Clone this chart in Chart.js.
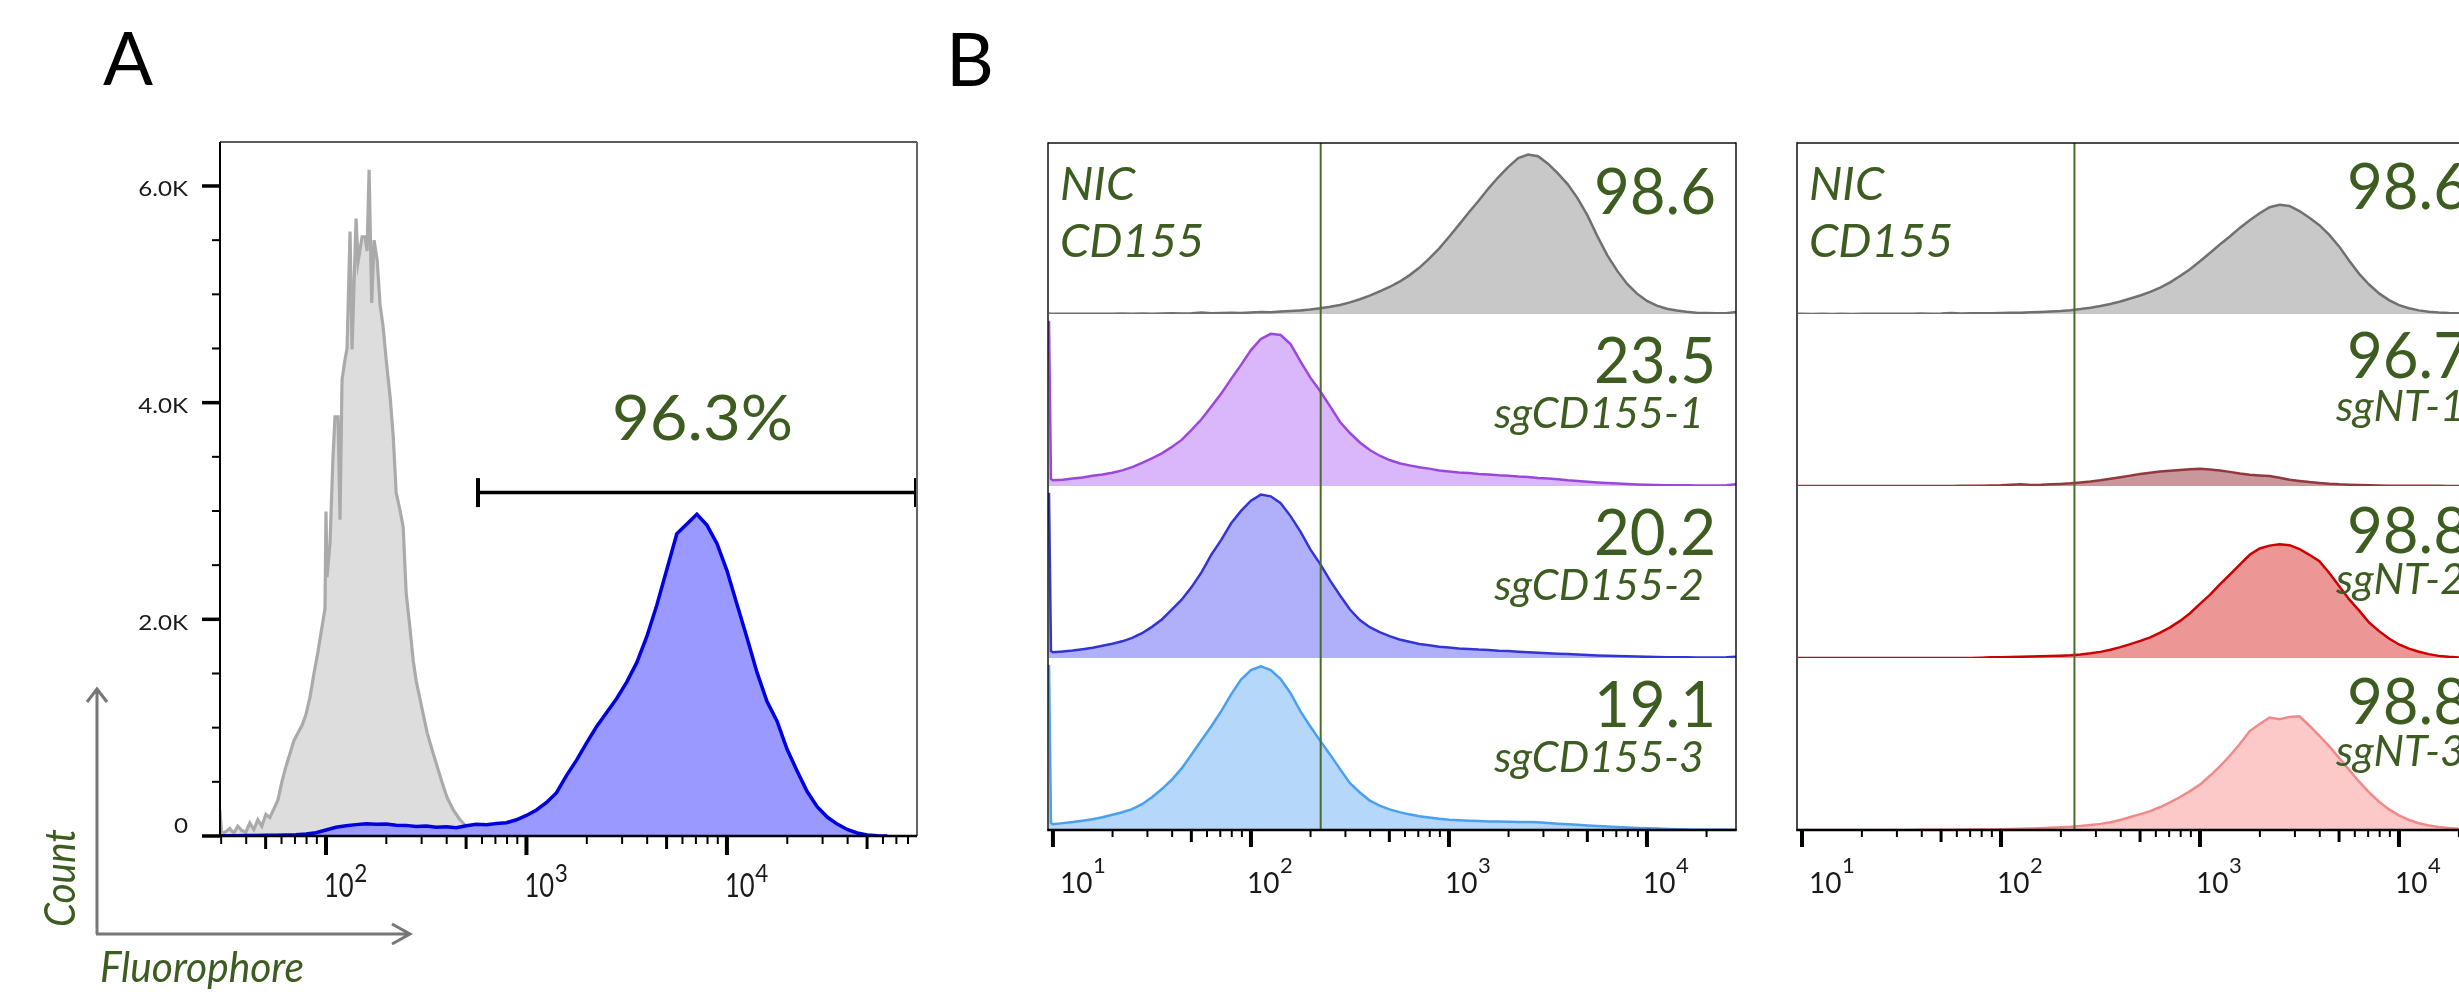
<!DOCTYPE html>
<html><head><meta charset="utf-8">
<script src="https://cdn.jsdelivr.net/npm/chart.js@4.4.1/dist/chart.umd.min.js"></script>
<style>
html,body{margin:0;padding:0;background:#fff;}
#stage{position:relative;width:2459px;height:992px;overflow:hidden;background:#fff;}
#stage canvas{position:absolute;}
#ann{position:absolute;left:0;top:0;z-index:10;pointer-events:none;}
</style></head>
<body><div id="stage">
<svg id="ann" xmlns="http://www.w3.org/2000/svg" width="2459" height="992" font-family="Lato"></svg>
</div>
<script>
// ===================== DATA =====================
// Panel A – bin positions (log10 of fluorescence) and counts
const aGrayLog = [1.47,1.48,1.50,1.52,1.54,1.56,1.58,1.60,1.62,1.64,1.66,1.68,1.70,1.72,1.74,1.76,1.78,1.80,1.82,1.84,1.86,1.88,1.90,1.92,1.94,1.96,1.98,1.995,2.000,2.005,2.020,2.035,2.045,2.060,2.070,2.080,2.095,2.105,2.120,2.130,2.150,2.160,2.180,2.195,2.205,2.215,2.228,2.240,2.255,2.270,2.285,2.300,2.320,2.335,2.350,2.370,2.385,2.400,2.420,2.435,2.450,2.470,2.490,2.505,2.530,2.555,2.580,2.603,2.635,2.668,2.700,2.718,2.750,2.783,2.850];
const aGrayCount = [240,20,40,70,25,90,50,35,120,60,150,90,200,170,250,330,500,640,760,880,950,1020,1120,1280,1500,1700,1930,2100,2995,2390,2700,3500,3870,3870,2920,4210,4400,4500,5580,4490,5700,5300,5530,5530,5400,6150,4920,5500,5320,4900,4700,4400,4050,3700,3170,3000,2850,2240,1900,1620,1430,1255,1080,950,790,640,490,360,240,150,90,55,25,10,0];
const aBlueLog = [1.45,1.50,1.55,1.60,1.65,1.70,1.75,1.80,1.85,1.90,1.95,2.00,2.05,2.10,2.15,2.20,2.25,2.30,2.35,2.40,2.45,2.50,2.55,2.60,2.65,2.70,2.75,2.80,2.85,2.90,2.95,3.00,3.05,3.10,3.15,3.20,3.25,3.30,3.35,3.40,3.45,3.50,3.55,3.60,3.65,3.70,3.75,3.80,3.85,3.90,3.95,4.00,4.05,4.10,4.15,4.20,4.25,4.30,4.35,4.40,4.45,4.50,4.55,4.60,4.65,4.70,4.75,4.80];
const aBlueCount = [0,2,3,4,5,6,8,10,12,18,30,55,80,95,105,112,108,110,100,98,88,92,80,86,76,95,108,104,115,122,150,190,240,310,400,560,700,860,1010,1140,1270,1420,1600,1840,2130,2460,2790,2880,2970,2870,2700,2450,2140,1830,1510,1240,1060,800,600,410,270,175,110,60,28,10,2,0];
const aYTicks = [0, 2000, 4000, 6000];
const aYTickLabels = ['0', '2.0K', '4.0K', '6.0K'];
const aDecades = [2, 3, 4];
const aGateStart = 573;      // gate left edge (fluorescence)
const aGateLevel = 3170;     // count level at which the gate bar is drawn
const aGateLabel = '96.3%';

// Panel B – shared bins (log10 of fluorescence)
const bBinsLog = [0.98,0.99,1.00,1.05,1.10,1.15,1.20,1.25,1.30,1.35,
 1.40,1.45,1.50,1.55,1.60,1.65,1.70,1.75,1.80,1.85,
 1.90,1.95,2.00,2.05,2.10,2.15,2.20,2.25,2.30,2.35,
 2.40,2.45,2.50,2.55,2.60,2.65,2.70,2.75,2.80,2.85,
 2.90,2.95,3.00,3.05,3.10,3.15,3.20,3.25,3.30,3.35,
 3.40,3.45,3.50,3.55,3.60,3.65,3.70,3.75,3.80,3.85,
 3.90,3.95,4.00,4.05,4.10,4.15,4.20,4.25,4.30,4.35,
 4.40,4.45];
const bNIC = [0.3,0.2,0.2,0.1,0.2,0.1,0.2,0.1,0.2,0.3,
 0.2,0.3,0.2,0.3,0.4,0.3,0.5,0.9,0.5,0.6,
 0.7,0.6,0.9,1.1,1.0,1.4,1.7,2.1,2.6,3.3,
 4.2,5.3,6.8,8.6,10.7,13.2,15.8,18.9,22.6,27.0,
 32.4,38.2,45.0,52.1,59.4,66.2,73.5,80.1,86.0,91.2,
 93.2,92.3,87.9,82.2,75.8,67.6,57.5,45.4,34.3,25.2,
 17.6,11.9,7.6,4.9,3.1,2.0,1.3,0.8,0.6,0.4,
 0.5,1.2];
const bSgCD155_1 = [96,4.0,3.3,3.7,4.3,4.9,5.9,6.7,7.7,9.1,
 11.0,13.4,16.1,19.0,22.7,26.8,32.6,38.8,46.2,53.7,
 62.3,70.4,79.0,85.5,88.5,87.8,82.5,72.4,63.0,55.1,
 46.3,37.2,30.8,25.3,20.9,17.6,15.1,13.2,12.0,10.9,
 10.1,9.0,8.4,7.9,7.6,7.0,6.7,6.2,6.0,5.5,
 5.3,4.7,4.3,3.9,3.3,2.9,2.5,2.1,1.7,1.4,
 1.1,0.9,0.7,0.6,0.5,0.4,0.4,0.3,0.3,0.3,
 0.5,1.0];
const bSgCD155_2 = [96,4.0,3.3,3.8,4.3,5.1,6.0,7.1,8.3,9.7,
 11.7,14.4,18.1,22.4,28.1,33.9,41.2,49.8,60.1,68.7,
 78.3,85.5,91.5,95.0,94.0,90.0,82.5,73.5,63.1,54.6,
 45.0,36.3,28.2,22.1,17.9,15.0,12.7,10.8,9.4,8.1,
 7.4,6.5,6.1,5.5,5.3,4.9,4.7,4.2,4.0,3.6,
 3.3,3.0,2.8,2.5,2.3,2.0,1.8,1.5,1.3,1.1,
 1.0,0.8,0.7,0.6,0.5,0.4,0.4,0.3,0.3,0.3,
 0.4,0.8];
const bSgCD155_3 = [96,4.0,3.3,4.0,4.6,5.4,6.3,7.4,8.9,10.3,
 12.1,15.0,19.1,23.8,29.2,35.8,43.9,52.2,60.3,69.1,
 78.9,87.5,93.0,95.1,93.0,87.8,79.5,69.0,60.2,51.8,
 43.8,35.4,27.2,21.8,17.1,14.2,12.0,10.4,9.1,8.0,
 7.3,6.5,6.0,5.7,5.4,5.2,5.0,4.9,4.8,4.7,
 4.6,4.5,4.1,3.7,3.3,3.0,2.6,2.3,2.0,1.7,
 1.4,1.2,1.0,0.8,0.6,0.5,0.3,0.2,0.2,0.1,
 0.1,0.1];
const bSgNT_1 = [0.1,0.1,0.1,0.1,0.1,0.1,0.1,0.1,0.1,0.1,
 0.1,0.1,0.1,0.1,0.1,0.1,0.1,0.1,0.2,0.2,
 0.3,0.4,0.6,1.0,1.5,0.9,1.0,1.4,1.8,2.3,
 3.0,3.8,4.8,6.1,7.4,8.8,10.2,11.3,12.3,13.0,
 13.6,14.2,14.6,14.0,13.2,12.0,10.7,9.6,9.0,8.4,
 7.0,5.3,4.3,3.3,2.6,1.9,1.4,1.1,0.8,0.6,
 0.4,0.3,0.2,0.2,0.2,0.2,0.2,0.1,0.1,0.1,
 0.1,0.1];
const bSgNT_2 = [0.1,0.1,0.1,0.1,0.1,0.1,0.1,0.1,0.1,0.1,
 0.1,0.1,0.1,0.1,0.1,0.1,0.1,0.1,0.1,0.1,
 0.3,0.6,0.7,0.8,1.0,1.2,1.4,1.7,2.0,2.4,
 3.0,4.0,5.2,7.0,9.2,11.8,14.5,17.5,21.5,26.0,
 31.5,38.0,46.0,53.6,62.4,70.8,79.3,87.6,93.0,95.4,
 96.6,95.8,92.5,87.6,82.2,72.1,61.0,49.7,40.2,30.1,
 22.8,16.5,11.5,8.0,5.3,3.3,1.8,1.0,0.5,0.3,
 0.2,0.2];
const bSgNT_3 = [0.1,0.1,0.1,0.1,0.1,0.1,0.1,0.1,0.1,0.1,
 0.1,0.1,0.1,0.1,0.2,0.2,0.3,0.3,0.3,0.4,
 0.4,0.5,0.7,0.8,1.0,1.2,1.5,1.9,2.3,2.7,
 3.3,4.2,5.2,6.6,8.5,11.0,13.5,16.0,19.5,23.5,
 28.0,33.0,38.5,46.0,54.0,63.0,73.0,84.0,90.0,95.5,
 94.0,96.0,96.5,88.5,80.0,71.0,61.0,51.0,41.0,32.0,
 24.0,17.5,12.5,8.5,5.7,3.8,2.6,1.7,1.0,0.6,
 0.4,0.3];
const bLeftSeries = [bNIC, bSgCD155_1, bSgCD155_2, bSgCD155_3];
const bRightSeries = [bNIC, bSgNT_1, bSgNT_2, bSgNT_3];
const bLeftNames = ['NIC', 'sgCD155-1', 'sgCD155-2', 'sgCD155-3'];
const bRightNames = ['NIC', 'sgNT-1', 'sgNT-2', 'sgNT-3'];
const bTitle = ['NIC', 'CD155'];
const bLeftPct = ['98.6', '23.5', '20.2', '19.1'];
const bRightPct = ['98.6', '96.7', '98.8', '98.8'];
const bDecades = [1, 2, 3, 4];
const bGates = [225, 234];          // gate positions (left, right panel)
const bYMax = [100, 146];           // row scale maximum (left, right panel)

// ===================== STYLES / LAYOUT =====================
const GREEN = '#3c5c20';
const GATE_GREEN = '#4a6b2a';
const aStyle = {
  gray: {line: '#aaaaaa', fill: '#dddddd'},
  blue: {line: '#0000dd', fill: '#9999ff'}
};
const bLeftStyle = [
  {line: '#707070', fill: '#c8c8c8'},
  {line: '#9a48dc', fill: '#dab6fa'},
  {line: '#3434d6', fill: '#b0b0fa'},
  {line: '#4a9ff0', fill: '#b4d7fa'}
];
const bRightStyle = [
  {line: '#707070', fill: '#c8c8c8'},
  {line: '#93383f', fill: '#c8969b'},
  {line: '#cc0000', fill: '#ec9696'},
  {line: '#f08a8a', fill: '#fcc8c8'}
];
const A_AREA = {left: 220, top: 142, right: 917, bottom: 836};
const A_LOG = [1.4713, 4.948];
const A_YMAX = 6406;
const B_ROW_TOPS = [143, 314, 486, 658];
const B_BOTTOM = 830;
const B_BOXES = [
  {left: 1048, right: 1736, logMax: 4.4497},
  {left: 1797, right: 2484, logMax: 4.4273}
];
const B_LOG_MIN = 0.975;

const stage = document.getElementById('stage');
const svg = document.getElementById('ann');
const NS = 'http://www.w3.org/2000/svg';

function seg(ctx, x1, y1, x2, y2) { ctx.beginPath(); ctx.moveTo(x1, y1); ctx.lineTo(x2, y2); ctx.stroke(); }

function drawPow(ctx, x, base, exp, big, small, rise, sxBig, sxSmall) {
  ctx.save();
  ctx.fillStyle = '#1a1a1a';
  ctx.textAlign = 'left'; ctx.textBaseline = 'alphabetic';
  ctx.font = big + 'px Lato';
  const w = ctx.measureText('10').width * sxBig;
  ctx.translate(x, base);
  ctx.save(); ctx.scale(sxBig, 1); ctx.fillText('10', 0, 0); ctx.restore();
  ctx.font = small + 'px Lato';
  ctx.save(); ctx.translate(w + 0.5, -rise); ctx.scale(sxSmall, 1); ctx.fillText(String(exp), 0, 0); ctx.restore();
  ctx.restore();
}

function drawLogTicks(ctx, xs, y0, spec) {
  ctx.strokeStyle = '#000';
  for (let e = 0; e <= 5; e++) {
    for (let m = 1; m <= 9; m++) {
      const v = m * Math.pow(10, e);
      if (v < xs.min * 0.999 || v > xs.max) continue;
      const px = xs.getPixelForValue(v);
      const t = m === 1 ? spec.major : (m === 5 ? spec.mid : spec.minor);
      ctx.lineWidth = t[1];
      seg(ctx, px, y0, px, y0 + t[0]);
    }
  }
}

function toPoints(logs, vals) { return logs.map((l, i) => ({x: Math.pow(10, l), y: vals[i]})); }

function makeCanvas(left, top, width, height) {
  const c = document.createElement('canvas');
  c.width = width; c.height = height;
  c.style.left = left + 'px'; c.style.top = top + 'px';
  c.style.width = width + 'px'; c.style.height = height + 'px';
  stage.appendChild(c);
  return c;
}

function baseOptions(pad, xmin, xmax, ymax) {
  return {
    responsive: false, animation: false, devicePixelRatio: 1, events: [],
    layout: {padding: pad},
    plugins: {legend: {display: false}, tooltip: {enabled: false}},
    elements: {point: {radius: 0}, line: {tension: 0}},
    scales: {
      x: {type: 'logarithmic', min: xmin, max: xmax, display: false},
      y: {type: 'linear', min: 0, max: ymax, display: false}
    }
  };
}

// ===================== PANEL A =====================
(function () {
  const W = 960, H = 992;
  const c = makeCanvas(0, 0, W, H);
  const pad = {left: A_AREA.left, top: A_AREA.top, right: W - A_AREA.right, bottom: H - A_AREA.bottom};
  const frameA = {
    id: 'frameA',
    afterDatasetsDraw(chart) {
      const {ctx, chartArea: a, scales: {x, y}} = chart;
      ctx.save();
      ctx.lineCap = 'butt';
      // gate bar
      const g0 = x.getPixelForValue(aGateStart), g1 = x.getPixelForValue(x.max) - 1;
      const gy = y.getPixelForValue(aGateLevel);
      ctx.strokeStyle = '#000'; ctx.lineWidth = 3.5;
      seg(ctx, g0, gy, g1, gy);
      ctx.lineWidth = 4;
      seg(ctx, g0, gy - 14.5, g0, gy + 14.5);
      seg(ctx, g1, gy - 14.5, g1, gy + 14.5);
      // box
      ctx.strokeStyle = '#222'; ctx.lineWidth = 1.5;
      seg(ctx, a.left, a.top, a.right, a.top);
      ctx.strokeStyle = '#666'; ctx.lineWidth = 2;
      seg(ctx, a.right, a.top, a.right, a.bottom);
      ctx.strokeStyle = '#000'; ctx.lineWidth = 2;
      seg(ctx, a.left, a.top, a.left, a.bottom + 1);
      ctx.lineWidth = 2.5;
      seg(ctx, a.left, a.bottom, a.right, a.bottom);
      // y ticks + labels
      for (let v = 0; v <= y.max; v += 500) {
        const py = y.getPixelForValue(v);
        const major = aYTicks.indexOf(v) >= 0;
        ctx.lineWidth = major ? 3.5 : 2;
        seg(ctx, a.left - (major ? 18 : 8), py, a.left, py);
      }
      ctx.fillStyle = '#1a1a1a'; ctx.font = '21px Lato'; ctx.textAlign = 'right'; ctx.textBaseline = 'alphabetic';
      aYTicks.forEach((v, i) => {
        const py = y.getPixelForValue(v);
        ctx.save(); ctx.translate(a.left - 32, py + (v === 0 ? -3 : 10.5)); ctx.scale(1.15, 1);
        ctx.fillText(aYTickLabels[i], 0, 0); ctx.restore();
      });
      // x ticks + labels
      drawLogTicks(ctx, x, a.bottom, {major: [19, 4], mid: [13, 3], minor: [8, 2]});
      aDecades.forEach(e => {
        const px = x.getPixelForValue(Math.pow(10, e));
        drawPow(ctx, px - 2, a.bottom + 61, e, 32, 25, 15, 0.8, 0.9);
      });
      ctx.restore();
    }
  };
  new Chart(c, {
    type: 'line',
    data: {datasets: [
      {label: 'stained', data: toPoints(aBlueLog, aBlueCount), borderColor: aStyle.blue.line, backgroundColor: aStyle.blue.fill, borderWidth: 3.5, fill: 'origin', order: 0},
      {label: 'unstained', data: toPoints(aGrayLog, aGrayCount), borderColor: aStyle.gray.line, backgroundColor: aStyle.gray.fill, borderWidth: 3.2, fill: 'origin', order: 1}
    ]},
    options: baseOptions(pad, Math.pow(10, A_LOG[0]), Math.pow(10, A_LOG[1]), A_YMAX),
    plugins: [frameA]
  });
})();

// ===================== PANEL B =====================
const M = 20, EXTRA = 80;
function buildRow(p, r) {
  const box = B_BOXES[p];
  const series = p === 0 ? bLeftSeries : bRightSeries;
  const style = p === 0 ? bLeftStyle : bRightStyle;
  const names = p === 0 ? bLeftNames : bRightNames;
  const top = B_ROW_TOPS[r];
  const bottom = r < 3 ? B_ROW_TOPS[r + 1] : B_BOTTOM;
  const last = r === 3, first = r === 0;
  const extra = last ? EXTRA : 0;
  const width = box.right - box.left + 2 * M;
  const height = bottom - top + 2 * M + extra;
  const c = makeCanvas(box.left - M, top - M, width, height);
  const gate = bGates[p];
  const frame = {
    id: 'rowFrame',
    afterDatasetsDraw(chart) {
      const {ctx, chartArea: a, scales: {x}} = chart;
      ctx.save();
      ctx.lineCap = 'butt';
      const gx = x.getPixelForValue(gate);
      ctx.strokeStyle = GATE_GREEN; ctx.lineWidth = 2;
      seg(ctx, gx, a.top, gx, a.bottom);
      ctx.strokeStyle = '#111'; ctx.lineWidth = 1.5;
      seg(ctx, a.left, a.top - (first ? 0.75 : 0), a.left, a.bottom);
      seg(ctx, a.right, a.top - (first ? 0.75 : 0), a.right, a.bottom);
      if (first) seg(ctx, a.left, a.top, a.right, a.top);
      if (last) {
        ctx.strokeStyle = '#000'; ctx.lineWidth = 2.5;
        seg(ctx, a.left - 0.75, a.bottom, a.right + 0.75, a.bottom);
        drawLogTicks(ctx, x, a.bottom, {major: [17, 4], mid: [12, 3], minor: [7, 2]});
        bDecades.forEach(e => {
          const px = x.getPixelForValue(Math.pow(10, e));
          drawPow(ctx, Math.max(px - 4, a.left + 12), a.bottom + 63, e, 28, 22, 20, 1, 1);
        });
      }
      ctx.restore();
    }
  };
  new Chart(c, {
    type: 'line',
    data: {datasets: [{label: names[r], data: toPoints(bBinsLog, series[r]),
      borderColor: style[r].line, backgroundColor: style[r].fill, borderWidth: 2.5, fill: 'origin'}]},
    options: baseOptions({left: M, right: M, top: M, bottom: M + extra},
      Math.pow(10, B_LOG_MIN), Math.pow(10, box.logMax), bYMax[p]),
    plugins: [frame]
  });
}
for (let p = 0; p < 2; p++) for (let r = 0; r < 4; r++) buildRow(p, r);

// ===================== TEXT ANNOTATIONS =====================
function addText(txt, x, y, size, o) {
  o = o || {};
  const t = document.createElementNS(NS, 'text');
  t.setAttribute('x', x); t.setAttribute('y', y);
  t.setAttribute('font-size', size);
  t.setAttribute('fill', o.fill || GREEN);
  if (o.italic) t.setAttribute('font-style', 'italic');
  if (o.anchor) t.setAttribute('text-anchor', o.anchor);
  if (o.len) { t.setAttribute('textLength', o.len); t.setAttribute('lengthAdjust', 'spacingAndGlyphs'); }
  if (o.transform) t.setAttribute('transform', o.transform);
  t.textContent = txt;
  svg.appendChild(t);
}
function addPath(d) {
  const pth = document.createElementNS(NS, 'path');
  pth.setAttribute('d', d);
  pth.setAttribute('fill', 'none'); pth.setAttribute('stroke', '#777');
  pth.setAttribute('stroke-width', '3'); pth.setAttribute('stroke-linejoin', 'miter');
  svg.appendChild(pth);
}
// panel letters
addText('A', 103, 85, 74, {fill: '#000'});
addText('B', 946, 86, 74, {fill: '#000'});
// panel A gate label and axis hints
addText(aGateLabel, 612, 440, 61, {len: 181});
addPath('M97 934 L97 689 M87 702 L97 689 L107 702');
addPath('M96 934 L410 934 M392 924 L410 934 L392 944');
addText('Count', 0, 0, 42, {italic: true, len: 98, transform: 'translate(75,927) rotate(-90)'});
addText('Fluorophore', 100, 982, 42, {italic: true, len: 204});
// panel B texts
const bNumBase = [[214, 383, 555, 727], [209, 378, 553, 724]];
const bLabBase = [[0, 428, 600, 772], [0, 421, 594, 766]];
[0, 1].forEach(p => {
  const box = B_BOXES[p];
  addText(bTitle[0], box.left + 12, 200, 47, {italic: true});
  addText(bTitle[1], box.left + 12, 257, 47, {italic: true});
  const pct = p === 0 ? bLeftPct : bRightPct;
  const names = p === 0 ? bLeftNames : bRightNames;
  for (let r = 0; r < 4; r++) {
    if (p === 0) addText(pct[r], box.right - 142, bNumBase[p][r], 64, {len: 122});
    else addText(pct[r], 2347, bNumBase[p][r], 64, {len: 122});
    if (r > 0) {
      if (p === 0) addText(names[r], box.right - 32, bLabBase[p][r], 43, {italic: true, anchor: 'end'});
      else addText(names[r], 2336, bLabBase[p][r], 43, {italic: true});
    }
  }
});
</script></body></html>
